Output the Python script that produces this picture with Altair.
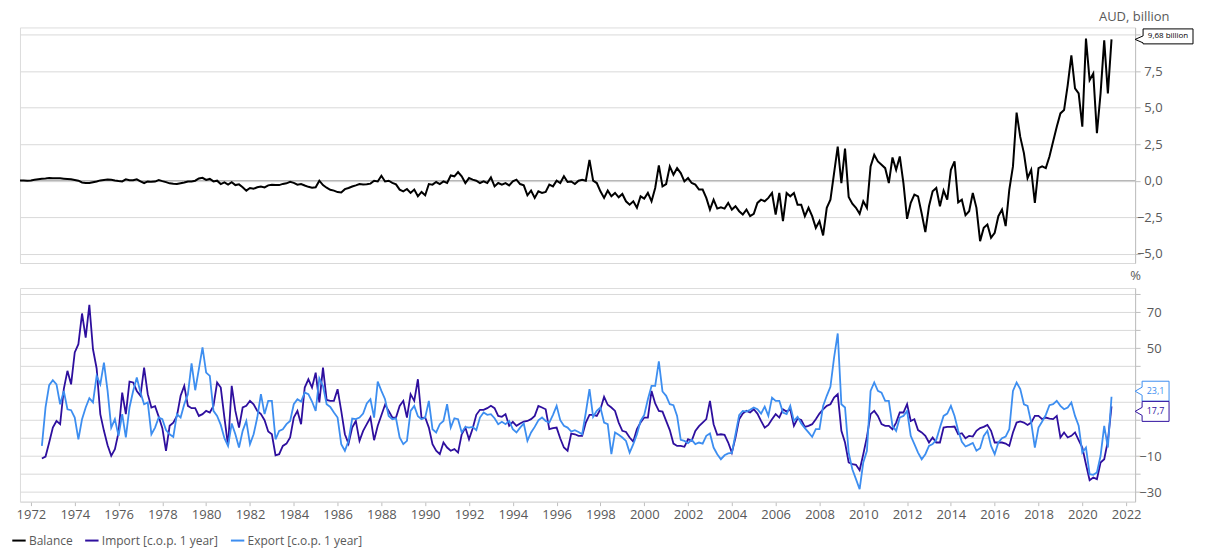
import altair as alt
import pandas as pd

# ---------------- data ----------------
# Trade balance, AUD billion, bi-monthly readings from Jul 1971
balance = [
    0.02, 0.01, 0.0, 0.01, 0.06, 0.1, 0.13, 0.15, 0.18, 0.17,
    0.17, 0.16, 0.14, 0.12, 0.1, 0.05, 0.0, -0.12, -0.15, -0.16,
    -0.1, -0.05, 0.02, 0.05, 0.08, 0.07, 0.02, -0.02, -0.05, 0.09,
    0.03, 0.03, 0.09, -0.05, -0.16, -0.05, -0.08, -0.06, 0.05, -0.03,
    -0.1, -0.18, -0.21, -0.23, -0.17, -0.12, -0.05, -0.05, 0.0, 0.15,
    0.2, 0.05, 0.12, -0.05, 0.0, -0.23, -0.12, -0.27, -0.1, -0.3,
    -0.25, -0.45, -0.68, -0.5, -0.55, -0.45, -0.4, -0.46, -0.32, -0.28,
    -0.3, -0.3, -0.22, -0.18, -0.08, -0.15, -0.27, -0.23, -0.33, -0.42,
    -0.48, -0.45, 0.0, -0.3, -0.48, -0.62, -0.68, -0.78, -0.8, -0.58,
    -0.5, -0.4, -0.32, -0.23, -0.26, -0.25, -0.2, 0.0, -0.05, 0.34,
    -0.05, 0.0, -0.15, -0.25,
    -0.61, -0.73, -0.57, -0.84, -0.61, -1.07, -0.77, -1.0, -0.23, -0.27,
    -0.09, -0.23, -0.05, -0.16, 0.36, 0.3, 0.59, 0.3, -0.16, 0.18,
    0.07, 0.0, -0.16, -0.05, -0.16, 0.23, -0.39, -0.16, -0.27, -0.16,
    -0.32, -0.05, 0.07, -0.23, -0.32, -1.0, -0.68, -1.18, -0.73, -0.84,
    -0.77, -0.27, -0.39, 0.0, -0.16, 0.3, -0.09, -0.05, -0.23, 0.0,
    0.07, 0.0, 1.43, 0.0, -0.16, -0.73, -1.18, -0.68, -1.07, -0.84,
    -1.14, -0.91, -1.41, -1.64, -1.41, -1.86, -1.07, -1.23, -0.84, -1.41,
    -0.5, 1.05, -0.39, -0.23, 0.98, 0.41, 0.86, 0.52, -0.05, 0.18,
    -0.16, -0.27, -0.61, -0.61, -1.18, -1.98, -1.3, -1.91, -1.82, -1.91,
    -1.52, -1.98, -1.75, -2.09, -2.32, -1.98, -2.43, -2.27, -1.52, -1.3,
    -1.41, -1.18, -0.84, -2.32, -0.84,
    -2.77, -0.84, -1.07, -0.84, -1.64, -1.64, -2.43, -1.86, -2.43, -3.23,
    -2.77, -3.75, -1.86, -1.3, 0.52, 2.34, -0.16, 2.2, -1.11, -1.57,
    -1.86, -2.27, -1.41, -1.86, 0.98, 1.77, 1.32, 1.09, 0.86, -0.16,
    1.59, 0.75, 1.66, -0.16, -2.61, -1.52, -0.95, -1.07, -2.25, -3.52,
    -1.75, -0.73, -0.5, -1.75, -0.68, -1.3, 0.75, 1.32, -1.48, -1.3,
    -2.36, -2.09, -0.84, -1.86, -4.14, -3.23, -3.0, -3.91, -3.57, -2.43,
    -1.98, -3.11, -0.61, 0.98, 4.66, 3.0, 1.89, 0.18, 0.75, -1.52,
    0.86, 0.98, 0.86, 1.66, 2.68, 3.7, 4.61, 4.84, 6.55, 8.59,
    6.32, 5.98, 3.7, 9.73, 6.89, 7.34, 3.25, 5.98, 9.61, 5.98, 9.68,
]

# Import and export, % change on the same period a year earlier, bi-monthly from Jul 1972
imports = [
    -11.3, -10.2, -2.4, 5.9, 9.6, 7.8, 27.3, 37.5, 30, 47.7,
    52.3, 69.4, 56, 74.2, 49.5, 38.8, 13.4, 4.1, -3.9, -9.8,
    -6.1, 3.2, 25.4, 13.4, 31.5, 31, 26.3, 23.6, 39.3, 24.5,
    17.1, 17.8, 12, 5.6, -7, 6.9, 8.7, 12.4, 23.6, 29.1,
    18, 16.7, 16.7, 12.4, 13.4, 15.2, 14.3, 18, 31, 28.2,
    11.5, -4.3, 29.1, 15.2, 5.9, 17.1, 18, 20.8, 18.9, 15.2,
    13.4, 10, 3.7, 2.2, -9.5, -8.9, -4.3, -3, 0.4, 11.5,
    15.2, 7.8, 28.2, 32.8, 28.2, 36.5, 19.9, 39.3, 21.3, 20.8,
    20.8, 27.3, 15.2, 2.2, -3, 5.9, 9.6, -1.5, 4.1, 7.8,
    11.5, -1.1, 6.9, 12.8, 18.6, 15.2, 11.5, 11.5,
    18, 20.8, 11.5, 24.5, 20.8, 32.8, 11.1, 11.5, 5.9, -3.3,
    -7, -8.9, -2.4, -5.2, -7, -6.1, -8, 2.2, 5.9, -0.6,
    5.4, 13, 15.8, 15.8, 16.7, 18, 16.7, 12.4, 11.9, 13.4,
    6.9, 9.1, 6.9, 8.2, 9.3, 9.6, 10.6, 12.4, 18, 17.1,
    16.1, 5, 5.6, 5.9, -0.2, -5.2, -7, 2.6, 2.2, 1.3,
    1.3, 8.7, 13, 13, 12.4, 16.1, 23, 18.6, 17.1, 15.2,
    8.7, 4.1, 3.5, 0.4, -1.9, 5, 8.7, 11.5, 11.5, 26.3,
    19.3, 15.2, 14.8, 9.6, 4.5, -3, -4.3, -4.3, -4.8, -0.6,
    -1.5, 4.1, 6.7, 8.7, 10.6, 20.8, 7.8, 1.9, 2.2, 1.9,
    -2.4, -8, 0.4, 10.6, 13.7, 15.2, 14.3, 16.1, 13.7, 9.6,
    5.9, 7.4, 10.6, 13.4,
    11.5, 16.1, 14.8, 16.1, 6.9, 10.9, 10.2, 6.3, 6.9, 7.8,
    10.6, 13.7, 16.1, 18, 18.9, 22.6, 24.5, 4.1, -2.4, -13.5,
    -14.5, -14.8, -17.8, -8.9, 0.7, 13.4, 15.2, 12.4, 7.8, 6.9,
    6.9, 5, 8.7, 14.3, 14.3, 18.9, 9.6, 10.6, 4.5, 3.2,
    1.3, -2.4, 0.4, -2.4, -2.4, 5.9, 6.3, 6.3, 6.5, 2.2,
    2.8, 0, 1.3, 0.9, 4.1, 5.6, 6.3, 7.4, 4.1, -2.4,
    -2.4, -2.4, -3, -4.3, 3.2, 8.7, 9.3, 8.7, 7.4, 8.7,
    12.4, 12.4, 10.6, 11.5, 10.9, 10.6, 12.4, 0.4, 3.2, 0.4,
    1.3, 3.2, -1.1, -5.2, -14.5, -23.4, -21.9, -22.8, -13.5, -11.7,
    -1.5, 17.7,
]

exports = [
    -4.3, 17.1, 29.5, 32.3, 30, 18.9, 26.3, 16.1, 15.6, 11.5,
    -0.6, 10.6, 17.1, 22.3, 19.9, 34.7, 30, 42.1, 26.3, 5.9,
    10.6, 1.3, 13.4, 0.4, 17.1, 26.3, 33.8, 25.4, 18.9, 19.9,
    2.2, 5.9, 11.5, 10.6, 4.5, 2.2, 0.7, 13.4, 11.5, 18.9,
    24.5, 41.6, 26.7, 38.4, 50.5, 36.5, 34.7, 15.2, 12.4, 7.4,
    0, -4.3, 8.2, 2.2, -5.2, 4.1, 9.6, -3.3, 2.2, 11.5,
    24.5, 13.4, 20.8, 20.8, -0.6, 4.1, 5, 7.8, 9.6, 18.9,
    21.7, 20.4, 25.4, 24.5, 20.4, 15.2, 33.4, 29.1, 18.9, 17.4,
    14.3, 11.5, -3.3, -7, -1.5, 10.9, 10.6, 11.5, 13.7, 19.3,
    21.7, 11.5, 31.5, 26.3, 21.7, 12.4, 10.6, 11.1,
    0.4, -3.3, -1.5, 15.2, 18, 12.2, 10.6, 11.5, 20.8, 5,
    3.2, 7.8, 9.6, 18.9, 5.9, 11.1, 10.6, 3.2, 6.3, 5.9,
    6.3, 4.5, 11.5, 14.3, 13, 13.4, 11.1, 7.8, 9.1, 7.8,
    9.6, 5, 3.2, 5.9, 8.2, -1.5, 3.2, 6.3, 10, 11.5,
    9.6, 8.7, 13, 18, 10, 6.9, 5.9, 3.7, 4.5, 3.5,
    2.2, 14.3, 27.3, 11.9, 15.2, 17.1, 8.7, 7.8, -8.9, 3.2,
    1.9, 0.4, -1.5, -8, -3.3, 2.2, 9.6, 13, 21.7, 29.1,
    29.1, 42.7, 26, 23.6, 18.9, 18.4, 12.4, -0.9, -1.5, -2.8,
    -0.9, -3.3, -2.4, -3, 1.3, 2.6, -5.2, -8.9, -11.7, -9.5,
    -8.5, -8.2, 2.2, 12.8, 15.2, 14.8, 15.8, 17.1, 16.1, 13.7,
    17.6, 12.4, 22.6, 20.8,
    20.8, 14.3, 13.4, 18, 9.6, 11.9, 8.2, 5.6, 3.2, 0.7,
    5, 5, 18, 23.6, 28.6, 44.9, 58.3, 18.9, 17.1, -8,
    -17.3, -22.8, -28.4, -13.5, -7, 26.3, 31, 26.3, 25.4, 20.8,
    20.8, 6.9, 4.1, 11.5, 12.4, 15.2, 1.3, -3.3, -8, -11.7,
    -8.9, -4.3, -3.3, -0.9, 5.9, 12.4, 13.7, 18, 12.4, 4.1,
    -2, -4.6, -3.7, -2.6, -7, -5.6, 1.3, 4.1, -4.3, -8.9,
    -2.4, 0, 0.9, 5, 26.3, 31, 27.3, 18.9, 18, 8.7,
    -5.2, 5.9, 9.3, 13, 18.4, 18.9, 20.8, 18, 16.1, 17.1,
    19.9, 12.4, 6.9, -8, -5.2, -20, -20.4, -19.1, -9.8, 6.9,
    -5.2, 23.1,
]

BAL_START = 1971.5      # July 1971
YOY_START = 1972.5      # July 1972
STEP = 1 / 6            # two months

SERIES = ["Balance", "Import [c.o.p. 1 year]", "Export [c.o.p. 1 year]"]
COLORS = ["#000000", "#2e0f9e", "#3d8ef0"]
x_ticks = list(range(1972, 2023, 2))
bal_ticks = [-5, -2.5, 0, 2.5, 5, 7.5, 10]
pct_ticks = list(range(-30, 81, 10))


def frame(values, start, name):
    return pd.DataFrame({
        "year": [start + k * STEP for k in range(len(values))],
        "value": values,
        "series": name,
    })


bal_df = frame(balance, BAL_START, SERIES[0])
imp_df = frame(imports, YOY_START, SERIES[1])
exp_df = frame(exports, YOY_START, SERIES[2])

# ---------------- styling ----------------
FONT = "Open Sans"
GRID = "#d9d9d9"
AXIS = "#bfbfbf"
TXT = "#595959"
W, H1, H2 = 1117, 236, 214
XDOM = [1971.5, 2022.41]

color = alt.Color(
    "series:N",
    scale=alt.Scale(domain=SERIES, range=COLORS),
    legend=alt.Legend(
        title=None, orient="none", legendX=-9, legendY=506,
        direction="horizontal", symbolType="stroke", symbolStrokeWidth=2,
        symbolSize=180, labelFont=FONT, labelFontSize=12, labelColor=TXT,
        labelOffset=2, columnPadding=8, padding=0,
    ),
)

x_top = alt.X("year:Q", scale=alt.Scale(domain=XDOM, nice=False, zero=False),
              axis=alt.Axis(title=None, labels=False, ticks=False, grid=False,
                            domainColor=GRID, domainWidth=1))
x_bot = alt.X("year:Q", scale=alt.Scale(domain=XDOM, nice=False, zero=False),
              axis=alt.Axis(title=None, values=x_ticks, format="d", grid=False,
                            domainColor=GRID, tickColor=AXIS, tickSize=4,
                            labelPadding=3, labelFont=FONT, labelFontSize=13,
                            labelColor=TXT))

y_top = alt.Y("value:Q", scale=alt.Scale(domain=[-5.64, 10.5], nice=False, zero=False),
              axis=alt.Axis(orient="right", values=bal_ticks, grid=True,
                            gridColor=GRID, gridWidth=1, domainColor=AXIS,
                            tickColor=AXIS, tickSize=5, labelAlign="right",
                            labelPadding=22, labelFont=FONT, labelFontSize=13,
                            labelColor=TXT, zindex=0,
                            labelExpr="datum.value == 10 ? '' : replace(format(datum.value, '.1f'), '.', ',')",
                            title="AUD, billion", titleAngle=0, titleAlign="right",
                            titleBaseline="alphabetic", titleX=34, titleY=-7,
                            titleFont=FONT, titleFontSize=13, titleFontWeight="normal",
                            titleColor=TXT))
# labels at 30 and 10 sit under the end-value tags, as in the reference
y_bot = alt.Y("value:Q", scale=alt.Scale(domain=[-35.3, 83.6], nice=False, zero=False),
              axis=alt.Axis(orient="right", values=pct_ticks, grid=True,
                            gridColor=GRID, gridWidth=1, domainColor=AXIS,
                            tickColor=AXIS, tickSize=5, labelAlign="right",
                            labelPadding=21, labelFont=FONT, labelFontSize=13,
                            labelColor=TXT, zindex=0,
                            labelExpr="(datum.value % 20 != 0 && datum.value != 30 && datum.value != 10) ? format(datum.value, 'd') : ''",
                            title="%", titleAngle=0, titleAlign="center",
                            titleBaseline="alphabetic", titleX=0, titleY=-9,
                            titleFont=FONT, titleFontSize=13, titleFontWeight="normal",
                            titleColor=TXT))

# ---------------- top panel ----------------
zero_df = pd.DataFrame({"value": [0]})
zero_rule = alt.Chart(zero_df).mark_rule(color="#a6a6a6", strokeWidth=1).encode(y=y_top)
bal_line = alt.Chart(bal_df).mark_line(strokeWidth=2).encode(x=x_top, y=y_top, color=color)

last_bal = pd.DataFrame({"value": [balance[-1]],
                         "label": [f"{balance[-1]:.2f}".replace(".", ",") + " billion"]})
BOX_TOP = "M-1,-0.3 L1,-0.3 L1,0.3 L-1,0.3 L-1,0.26 L-1.32,0.12 L-1,-0.02 Z"
bal_box = alt.Chart(last_bal).mark_point(
    shape=BOX_TOP, size=2500, filled=True, fill="white", stroke="black",
    strokeWidth=1, opacity=1, yOffset=-3,
).encode(x=alt.value(W + 33), y=y_top)
bal_txt = alt.Chart(last_bal).mark_text(
    font=FONT, fontSize=8, color="black", align="center", baseline="middle", yOffset=-3,
).encode(x=alt.value(W + 33), y=y_top, text="label:N")

top = alt.layer(zero_rule, bal_line, bal_box, bal_txt).properties(width=W, height=H1)

# ---------------- bottom panel ----------------
imp_line = alt.Chart(imp_df).mark_line(strokeWidth=1.8).encode(x=x_bot, y=y_bot, color=color)
exp_line = alt.Chart(exp_df).mark_line(strokeWidth=1.8).encode(x=x_bot, y=y_bot, color=color)

BOX_BOT = "M-0.54,-0.4 L0.54,-0.4 L0.54,0.4 L-0.54,0.4 L-0.54,0.16 L-0.82,0 L-0.54,-0.16 Z"


def end_tag(values, col, offset):
    d = pd.DataFrame({"value": [values[-1]],
                      "label": [f"{values[-1]:.1f}".replace(".", ",")]})
    box = alt.Chart(d).mark_point(
        shape=BOX_BOT, size=2500, filled=True, fill="white", stroke=col,
        strokeWidth=1, opacity=1, yOffset=offset,
    ).encode(x=alt.value(W + 20.5), y=y_bot)
    txt = alt.Chart(d).mark_text(
        font=FONT, fontSize=9, color=col, align="center", baseline="middle", yOffset=offset,
    ).encode(x=alt.value(W + 20.5), y=y_bot, text="label:N")
    return box, txt


exp_box, exp_txt = end_tag(exports, COLORS[2], -5.5)
imp_box, imp_txt = end_tag(imports, COLORS[1], 5)

bottom = alt.layer(imp_line, exp_line, exp_box, exp_txt, imp_box, imp_txt).properties(
    width=W, height=H2)

chart = (
    alt.vconcat(top, bottom, spacing=25, bounds="flush")
    .resolve_scale(color="shared")
    .resolve_legend(color="shared")
    .properties(padding={"left": 3, "top": 1, "right": 2, "bottom": 6})
    .configure_view(stroke=None)
    .configure(font=FONT)
)

chart.save("out.html", embed_options={"renderer": "svg", "actions": False})
